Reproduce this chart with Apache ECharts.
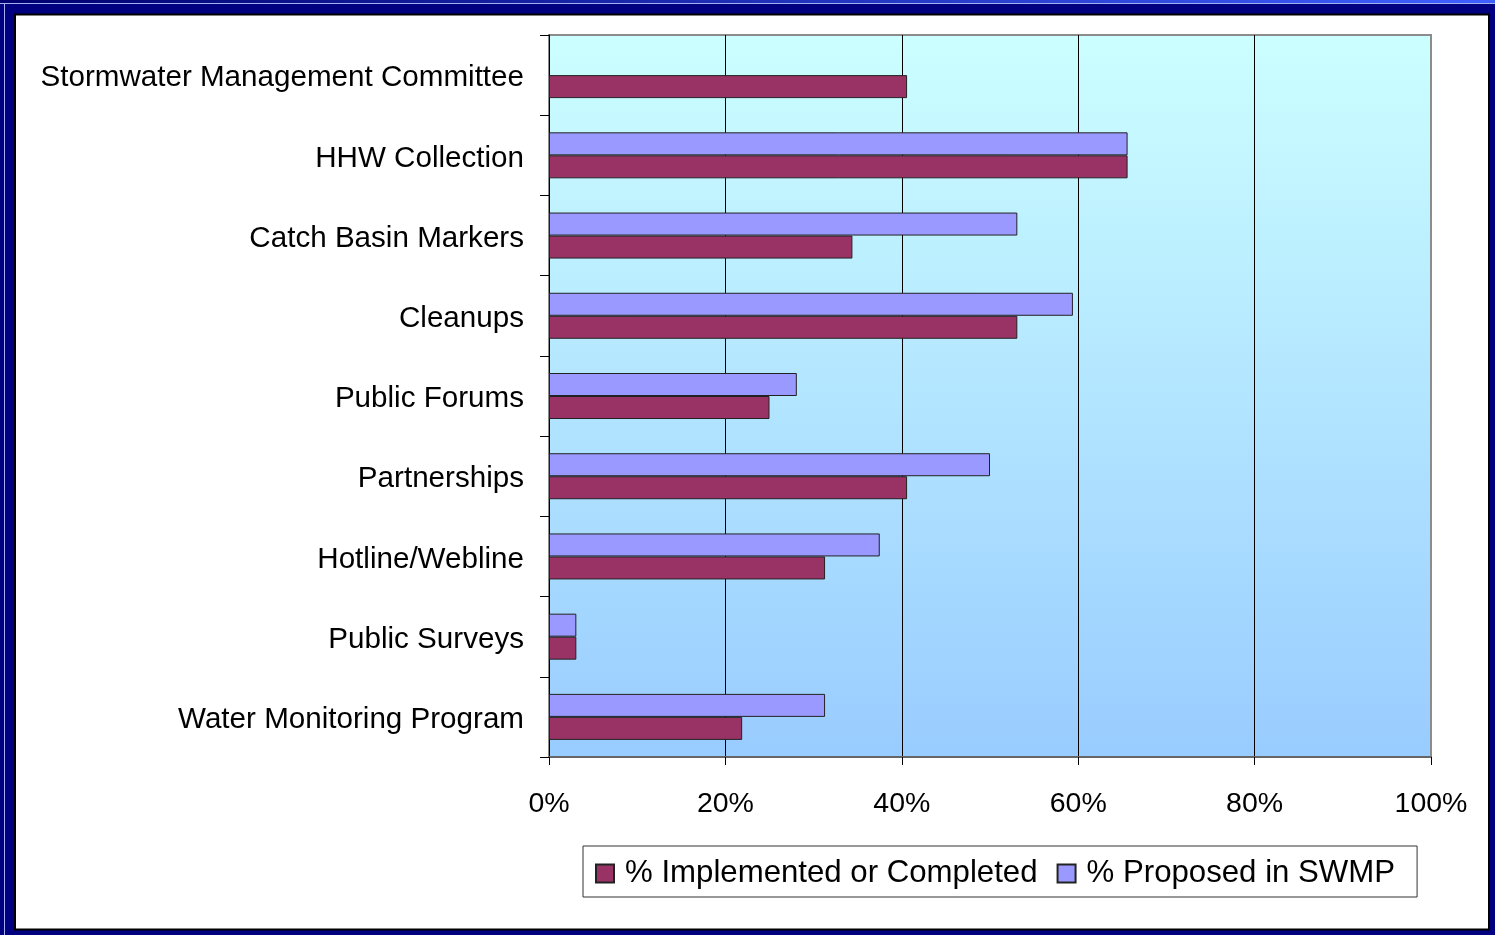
<!DOCTYPE html>
<html>
<head>
<meta charset="utf-8">
<script src="https://cdn.jsdelivr.net/npm/echarts@6/dist/echarts.min.js"></script>
<style>
html,body{margin:0;padding:0;background:#000080;}
#chart{width:1495px;height:935px;}
</style>
</head>
<body>
<div id="chart"></div>
<script>
var categories = ['Stormwater Management Committee','HHW Collection','Catch Basin Markers','Cleanups','Public Forums','Partnerships','Hotline/Webline','Public Surveys','Water Monitoring Program'];
var implemented = [40.6, 65.6, 34.4, 53.1, 25.0, 40.6, 31.3, 3.1, 21.9];
var proposed = [null, 65.6, 53.1, 59.4, 28.1, 50.0, 37.5, 3.1, 31.3];
var xTicks = [0, 20, 40, 60, 80, 100];

var FONT = '"Liberation Sans", Arial, sans-serif';
var chart = echarts.init(document.getElementById('chart'), null, {renderer:'canvas'});
chart.setOption({
  backgroundColor: '#000080',
  animation: false,
  graphic: [
    {type:'rect', z:-10, shape:{x:0,y:0,width:1495,height:3}, style:{fill:new echarts.graphic.LinearGradient(0,0,1,0,[{offset:0,color:'#000070'},{offset:1,color:'#4060ff'}])}},
    {type:'rect', z:-10, shape:{x:0,y:3,width:1495,height:1}, style:{fill:'#a0b0f0'}},
    {type:'rect', z:-10, shape:{x:4,y:3,width:1,height:932}, style:{fill:'#a0b0f0'}},
    {type:'rect', z:-9, shape:{x:15,y:14.5,width:1474,height:915}, style:{fill:'#ffffff', stroke:'#000000', lineWidth:2}}
  ],
  grid: {
    left: 549, top: 35, width: 882, height: 722,
    show: true,
    backgroundColor: new echarts.graphic.LinearGradient(0,0,0,1,[{offset:0,color:'#CCFFFF'},{offset:1,color:'#99CCFF'}]),
    borderColor: '#8c8c8c', borderWidth: 2
  },
  legend: {
    data: ['% Implemented or Completed', '% Proposed in SWMP'],
    left: 583, top: 846,
    orient: 'horizontal',
    icon: 'rect',
    itemWidth: 18, itemHeight: 18, itemGap: 19,
    padding: [12, 22, 8, 12],
    borderColor: '#333', borderWidth: 1,
    backgroundColor: '#ffffff',
    textStyle: {fontFamily: FONT, fontSize: 31.2, color: '#000', padding: [2,0,0,6]}
  },
  xAxis: {
    type: 'value', min: xTicks[0], max: xTicks[xTicks.length-1], interval: 20,
    axisLine: {show: true, lineStyle: {color: '#666', width: 2}},
    axisTick: {show: true, length: 8, lineStyle: {color: '#000'}},
    splitLine: {show: true, lineStyle: {color: ['#000','#000','#000','#000','#000','#8c8c8c'], width: 1}},
    axisLabel: {formatter: '{value}%', fontFamily: FONT, fontSize: 28.5, color: '#000', margin: 33}
  },
  yAxis: {
    type: 'category', inverse: true, data: categories,
    axisLine: {show: true, lineStyle: {color: '#000', width: 1}},
    axisTick: {show: true, length: 9, lineStyle: {color: '#000'}},
    axisLabel: {
      margin: 25,
      formatter: function (v) { return '{a|' + v + '}'; },
      rich: {a: {fontFamily: FONT, fontSize: 29.6, color: '#000', padding: [6,0,0,0]}}
    }
  },
  series: [
    {name: '% Proposed in SWMP', type: 'bar', data: proposed, barWidth: 23, barGap: '0%',
     itemStyle: {color: '#9999FF', borderColor: '#222', borderWidth: 1}},
    {name: '% Implemented or Completed', type: 'bar', data: implemented, barWidth: 23, barGap: '0%',
     itemStyle: {color: '#993366', borderColor: '#222', borderWidth: 1}}
  ]
});
</script>
</body>
</html>
